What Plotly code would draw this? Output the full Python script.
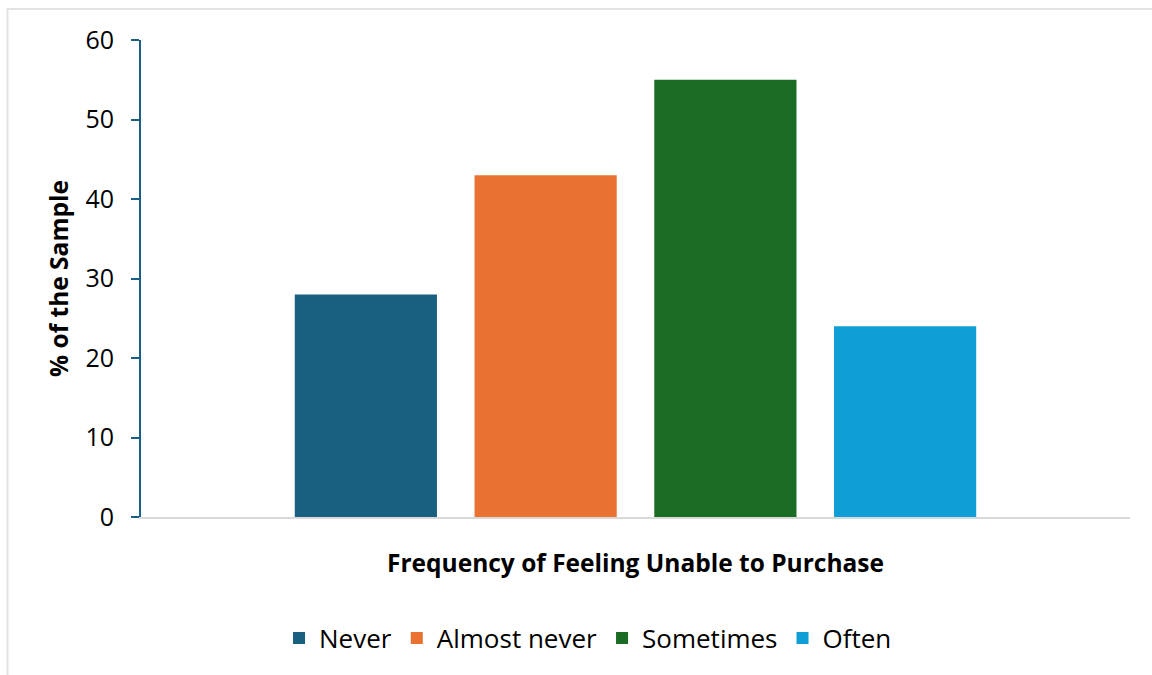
import plotly.graph_objects as go

categories = ["Never", "Almost never", "Sometimes", "Often"]
values = [28, 43, 55, 24]
colors = ["#185F80", "#E97132", "#1A6B24", "#0F9ED5"]
group_label = ["Frequency of Feeling Unable to Purchase"]
y_ticks = [0, 10, 20, 30, 40, 50, 60]

FONT = "Open Sans, Noto Sans, sans-serif"

fig = go.Figure()
for name, v, c in zip(categories, values, colors):
    fig.add_trace(go.Bar(x=group_label, y=[v], name=name, marker=dict(color=c, line=dict(width=0))))

fig.update_layout(
    width=1152, height=675,
    margin=dict(l=141, r=22, t=40, b=158),
    paper_bgcolor="white", plot_bgcolor="white",
    barmode="group", bargap=0.273, bargroupgap=0.209,
    font=dict(family=FONT, size=24, color="black"),
    showlegend=True,
    legend=dict(orientation="h", x=0.452, xanchor="center", y=-0.254, yanchor="middle",
                font=dict(size=26), itemwidth=30, traceorder="normal"),
    xaxis=dict(showticklabels=False, showline=True, linecolor="#D9D9D9", linewidth=2,
               ticks="", showgrid=False, zeroline=False, fixedrange=True),
    yaxis=dict(range=[0, 60], tickvals=y_ticks, ticks="outside", ticklen=8, tickwidth=2,
               tickcolor="#1A5F85", showline=True, linecolor="#1A5F85", linewidth=2,
               showgrid=False, zeroline=False, tickfont=dict(size=25), ticklabelstandoff=12),
    shapes=[dict(type="rect", xref="paper", yref="paper", x0=-0.135, x1=1.03, y0=-0.35, y1=1.065,
                 line=dict(color="#E3E3E3", width=2), fillcolor="rgba(0,0,0,0)", layer="below")],
    annotations=[
        dict(text="<b>Frequency of Feeling Unable to Purchase</b>", xref="paper", yref="paper",
             x=0.5, y=-0.0964, xanchor="center", yanchor="middle", showarrow=False,
             font=dict(size=24.5)),
        dict(text="<b>% of the Sample</b>", xref="paper", yref="paper", x=-0.084, y=0.501,
             xanchor="center", yanchor="middle", textangle=-90, showarrow=False,
             font=dict(size=24.5)),
    ],
)

fig.write_html("out.html")
